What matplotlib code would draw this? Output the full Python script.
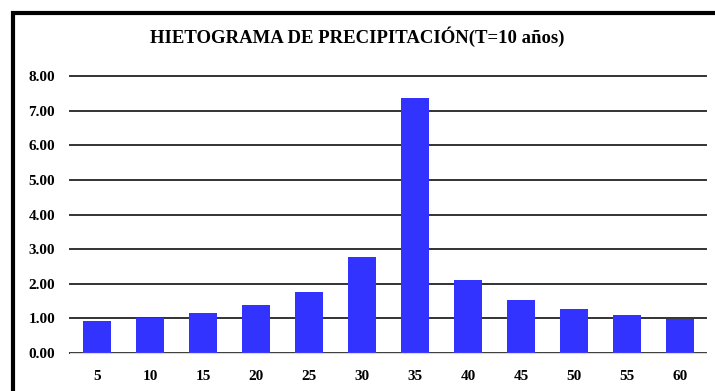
import matplotlib.pyplot as plt
from matplotlib.patches import Rectangle

# duration (min) and rainfall intensity block values
durations = ['5', '10', '15', '20', '25', '30', '35', '40', '45', '50', '55', '60']
precip = [0.93, 1.02, 1.17, 1.38, 1.75, 2.78, 7.36, 2.11, 1.54, 1.27, 1.09, 0.99]
yticks = [0, 1, 2, 3, 4, 5, 6, 7, 8]

plt.rcParams['font.family'] = ['Liberation Serif', 'DejaVu Serif']

fig = plt.figure(figsize=(7.15, 3.91), dpi=100)
ax = fig.add_axes([0.0986, 0.0972, 0.8895, 0.708])

ax.bar(range(len(durations)), precip, width=0.53, color='#3333ff', zorder=3)
ax.set_xlim(-0.5, len(durations) - 0.5)
ax.set_ylim(0, 8)
ax.set_yticks(yticks)
ax.set_yticklabels(['%.2f' % v for v in yticks], fontsize=11, fontweight='bold')
ax.set_xticks(range(len(durations)))
ax.set_xticklabels(durations, fontsize=11, fontweight='bold')
ax.tick_params(length=0)
ax.tick_params(axis='y', pad=11)
ax.tick_params(axis='x', pad=12)

ax.grid(axis='y', color='#333333', linewidth=1.4, zorder=0)
for gl in ax.get_ygridlines():
    gl.set_clip_on(False)
for s in ['top', 'right', 'left']:
    ax.spines[s].set_visible(False)
ax.spines['bottom'].set_color('#d8d8e8')
ax.spines['bottom'].set_zorder(4)

fig.text(0.5, 0.905, 'HIETOGRAMA DE PRECIPITACIÓN(T=10 años)',
         ha='center', va='center', fontsize=13.5, fontweight='bold')

# outer chart frame (cut off at right and bottom)
fig.patches.append(Rectangle((12.5 / 715, -0.1), 1.0, 1 - 12.5 / 391 + 0.1,
                             transform=fig.transFigure, fill=False,
                             edgecolor='black', linewidth=3))

fig.savefig('out.png', dpi=100)
